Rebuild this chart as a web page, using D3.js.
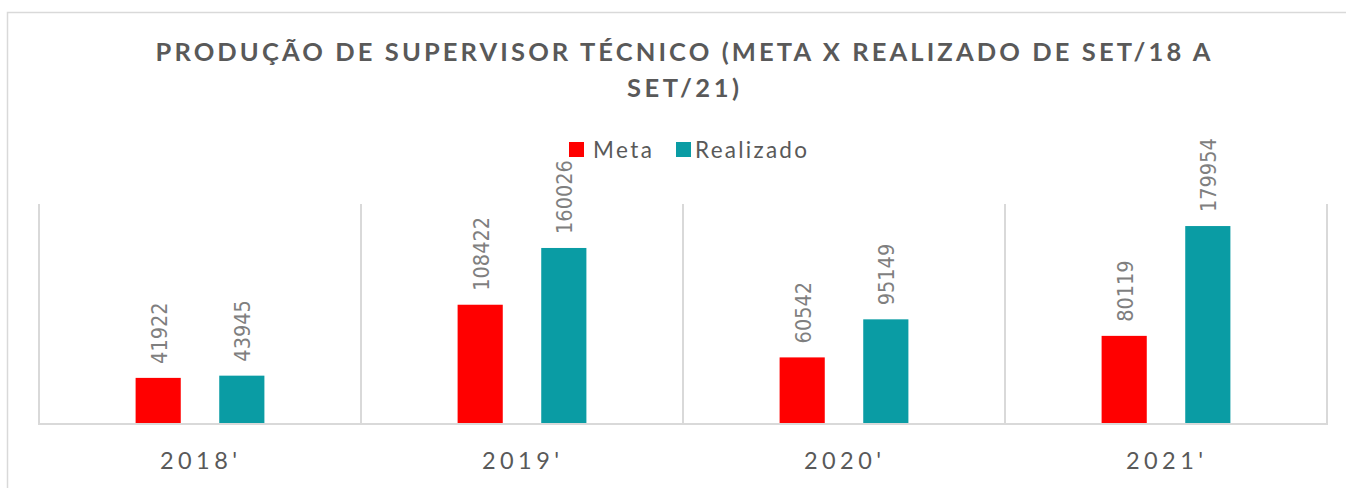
<!DOCTYPE html>
<html><head><meta charset="utf-8">
<script src="https://cdn.jsdelivr.net/npm/d3@7"></script>
<style>html,body{margin:0;padding:0;background:#fff;}svg{display:block;}</style>
</head><body>
<script>
const titleLines = ["PRODUÇÃO DE SUPERVISOR TÉCNICO (META X REALIZADO DE SET/18 A", "SET/21)"];
const categories = ["2018'", "2019'", "2020'", "2021'"];
const seriesNames = ["Meta", "Realizado"];
const metaValues = [41922, 108422, 60542, 80119];
const realizadoValues = [43945, 160026, 95149, 179954];
const colors = ["#ff0000", "#0a9ca4"];

const W = 1346, H = 488;
const svg = d3.select("body").append("svg").attr("width", W).attr("height", H);
svg.append("rect").attr("width", W).attr("height", H).attr("fill", "#fff");
svg.append("rect").attr("x", 7.5).attr("y", 12.5).attr("width", W + 10).attr("height", H + 10)
  .attr("fill", "none").attr("stroke", "#d9d9d9").attr("stroke-width", 1.5);

const plot = {left: 39, right: 1327, top: 204, bottom: 424};
const x0 = d3.scaleBand().domain(categories).range([plot.left, plot.right]).padding(0);
const x1 = d3.scaleBand().domain(seriesNames)
  .range([x0.bandwidth() * 0.3, x0.bandwidth() * 0.7]).paddingInner(0.46).paddingOuter(0);
const y = d3.scaleLinear().domain([0, 200000]).range([plot.bottom, plot.top]);

const data = categories.map((c, i) => ({cat: c, vals: [
  {s: "Meta", v: metaValues[i], c: colors[0]},
  {s: "Realizado", v: realizadoValues[i], c: colors[1]}]}));

function fit(sel, target) {
  sel.each(function() {
    const t = d3.select(this);
    t.attr("letter-spacing", 0);
    const n = this.getNumberOfChars();
    const w = this.getComputedTextLength();
    const ls = n > 1 ? (target - w) / (n - 1) : 0;
    t.attr("letter-spacing", ls);
  });
}

// separators (category boundaries)
const bounds = categories.map(c => x0(c)).concat([x0(categories[categories.length - 1]) + x0.bandwidth()]);
svg.append("g").selectAll("line").data(bounds).join("line")
  .attr("x1", d => d).attr("x2", d => d).attr("y1", plot.top).attr("y2", plot.bottom)
  .attr("stroke", "#d9d9d9").attr("stroke-width", 2);
svg.append("line").attr("x1", plot.left - 1).attr("x2", plot.right + 1)
  .attr("y1", plot.bottom).attr("y2", plot.bottom).attr("stroke", "#d9d9d9").attr("stroke-width", 2);

// bars
const g = svg.append("g").selectAll("g").data(data).join("g")
  .attr("transform", d => `translate(${x0(d.cat)},0)`);
g.selectAll("rect").data(d => d.vals).join("rect")
  .attr("x", d => x1(d.s)).attr("width", x1.bandwidth())
  .attr("y", d => y(d.v)).attr("height", d => y(0) - y(d.v) - 1)
  .attr("fill", d => d.c);
g.selectAll("text").data(d => d.vals).join("text")
  .attr("transform", d => `translate(${x1(d.s) + x1.bandwidth() / 2 + 1},${y(d.v) - 14}) rotate(-90)`)
  .attr("dominant-baseline", "central")
  .attr("font-family", "'DejaVu Sans Condensed','DejaVu Sans',sans-serif")
  .attr("font-stretch", "condensed")
  .attr("font-size", 21.5).attr("fill", "#7f7f7f")
  .text(d => d.v);

// category labels
const catLabels = svg.append("g").selectAll("text").data(categories).join("text")
  .attr("x", d => x0(d) + x0.bandwidth() / 2 - 40).attr("y", 469)
  .attr("font-family", "Lato, sans-serif").attr("font-size", 23.5).attr("fill", "#595959")
  .text(d => d);
fit(catLabels, 77);

// title
const tfs = 25.5;
const titleEl = svg.append("g").selectAll("text").data(titleLines).join("text")
  .attr("y", (d, i) => 61 + i * 36)
  .attr("font-family", "Lato, sans-serif").attr("font-weight", "bold")
  .attr("font-size", tfs).attr("fill", "#595959").text(d => d);
const targets = [1055, 112];
titleEl.each(function(d, i) {
  fit(d3.select(this), targets[i]);
  d3.select(this).attr("x", 683 - targets[i] / 2);
});

// legend
const legendX = [569, 676];
const leg = svg.append("g").selectAll("g").data(seriesNames).join("g")
  .attr("transform", (d, i) => `translate(${legendX[i]},142)`);
leg.append("rect").attr("width", 15).attr("height", 15).attr("fill", (d, i) => colors[i]);
const legText = leg.append("text").attr("x", (d, i) => i === 0 ? 24 : 19).attr("y", 15.5)
  .attr("font-family", "Lato, sans-serif").attr("font-size", 22.5).attr("fill", "#595959")
  .text(d => d);
legText.each(function(d, i) { fit(d3.select(this), [59, 112][i]); });
</script>
</body></html>
